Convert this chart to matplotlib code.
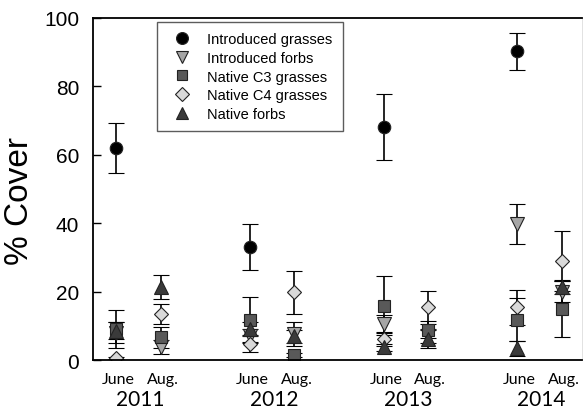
import numpy as np
import matplotlib.pyplot as plt
import matplotlib.transforms as mtransforms
from matplotlib.lines import Line2D

# sampling positions: June / Aug. of each year
x_pos = [1, 2, 4, 5, 7, 8, 10, 11]
months = ['June', 'Aug.'] * 4
years = ['2011', '2012', '2013', '2014']

# mean % cover and error (SE) per group
intro_grass = [62.0, np.nan, 33.1, np.nan, 68.0, np.nan, 90.2, np.nan]
intro_grass_err = [7.3, 0, 6.7, 0, 9.7, 0, 5.4, 0]

intro_forbs = [8.0, 3.7, 7.0, 7.5, 10.5, 7.0, 39.8, 20.0]
intro_forbs_err = [3.0, 2.0, 2.0, 3.5, 2.5, 2.0, 5.8, 3.0]

native_c3 = [9.1, 6.6, 11.8, 1.5, 15.9, 8.9, 11.8, 14.9]
native_c3_err = [5.6, 3.0, 6.5, 0.5, 8.6, 2.5, 6.2, 8.3]

native_c4 = [0.5, 13.4, 4.7, 19.8, 6.1, 15.4, 15.4, 29.0]
native_c4_err = [0.3, 3.0, 2.5, 6.3, 2.0, 4.9, 5.1, 8.8]

native_forbs = [8.5, 21.3, 9.0, 6.9, 3.7, 6.1, 3.4, 21.3]
native_forbs_err = [2.5, 3.6, 2.0, 2.0, 1.0, 2.7, 2.2, 2.0]

series = [
    ('Introduced grasses', intro_grass, intro_grass_err, 'o', 'black', 9),
    ('Introduced forbs', intro_forbs, intro_forbs_err, 'v', '#a6a6a6', 9.5),
    ('Native C3 grasses', native_c3, native_c3_err, 's', '#595959', 8),
    ('Native C4 grasses', native_c4, native_c4_err, 'D', '#d9d9d9', 7.5),
    ('Native forbs', native_forbs, native_forbs_err, '^', '#3a3a3a', 9.5),
]

fig = plt.figure(figsize=(5.83, 4.14), dpi=100)
ax = fig.add_axes([0.1595, 0.128, 0.8385, 0.827])

handles = []
for label, vals, errs, mk, col, ms in series:
    ax.errorbar(x_pos, vals, yerr=errs, fmt=mk, color='black', ecolor='black',
                mfc=col, mec='#222222', mew=0.8, ms=ms, capsize=5.5,
                elinewidth=1.2, capthick=1.2)
    handles.append(Line2D([], [], linestyle='none', marker=mk, mfc=col,
                          mec='#222222', mew=0.8, ms=ms * 0.95, label=label))

ax.set_xlim(0.48, 11.45)
ax.set_ylim(0, 100)
ax.set_yticks([0, 20, 40, 60, 80, 100])
ax.set_xticks([])
ax.tick_params(axis='y', direction='in', length=6, width=1, pad=10,
               labelsize=15)
for lbl in ax.get_yticklabels():
    lbl.set_fontfamily('Liberation Sans')
for s in ax.spines.values():
    s.set_linewidth(1.3)
ax.spines['right'].set_color('#dddddd')
ax.spines['right'].set_linewidth(0.6)

ax.set_ylabel('% Cover', fontsize=24, family='Liberation Sans')
ax.yaxis.set_label_coords(-0.118, 0.466)

trans = mtransforms.blended_transform_factory(ax.transData, ax.transAxes)
for x, m in zip(x_pos, months):
    ax.text(x + 0.05, -0.055, m, transform=trans, ha='center', va='center',
            fontsize=11.5, family='Lato')
for i, yr in enumerate(years):
    ax.text(x_pos[2 * i] + 0.55, -0.115, yr, transform=trans, ha='center',
            va='center', fontsize=15, family='Lato')

leg = ax.legend(handles=handles, loc='upper left',
                bbox_to_anchor=(0.131, 0.988), frameon=True, fancybox=False,
                edgecolor='#333333', borderpad=0.7, handletextpad=0.7,
                handlelength=2.03, labelspacing=0.33, borderaxespad=0,
                prop={'family': 'Liberation Sans', 'size': 10.5})
leg.get_frame().set_linewidth(1.0)

fig.savefig('out.png', dpi=100)
